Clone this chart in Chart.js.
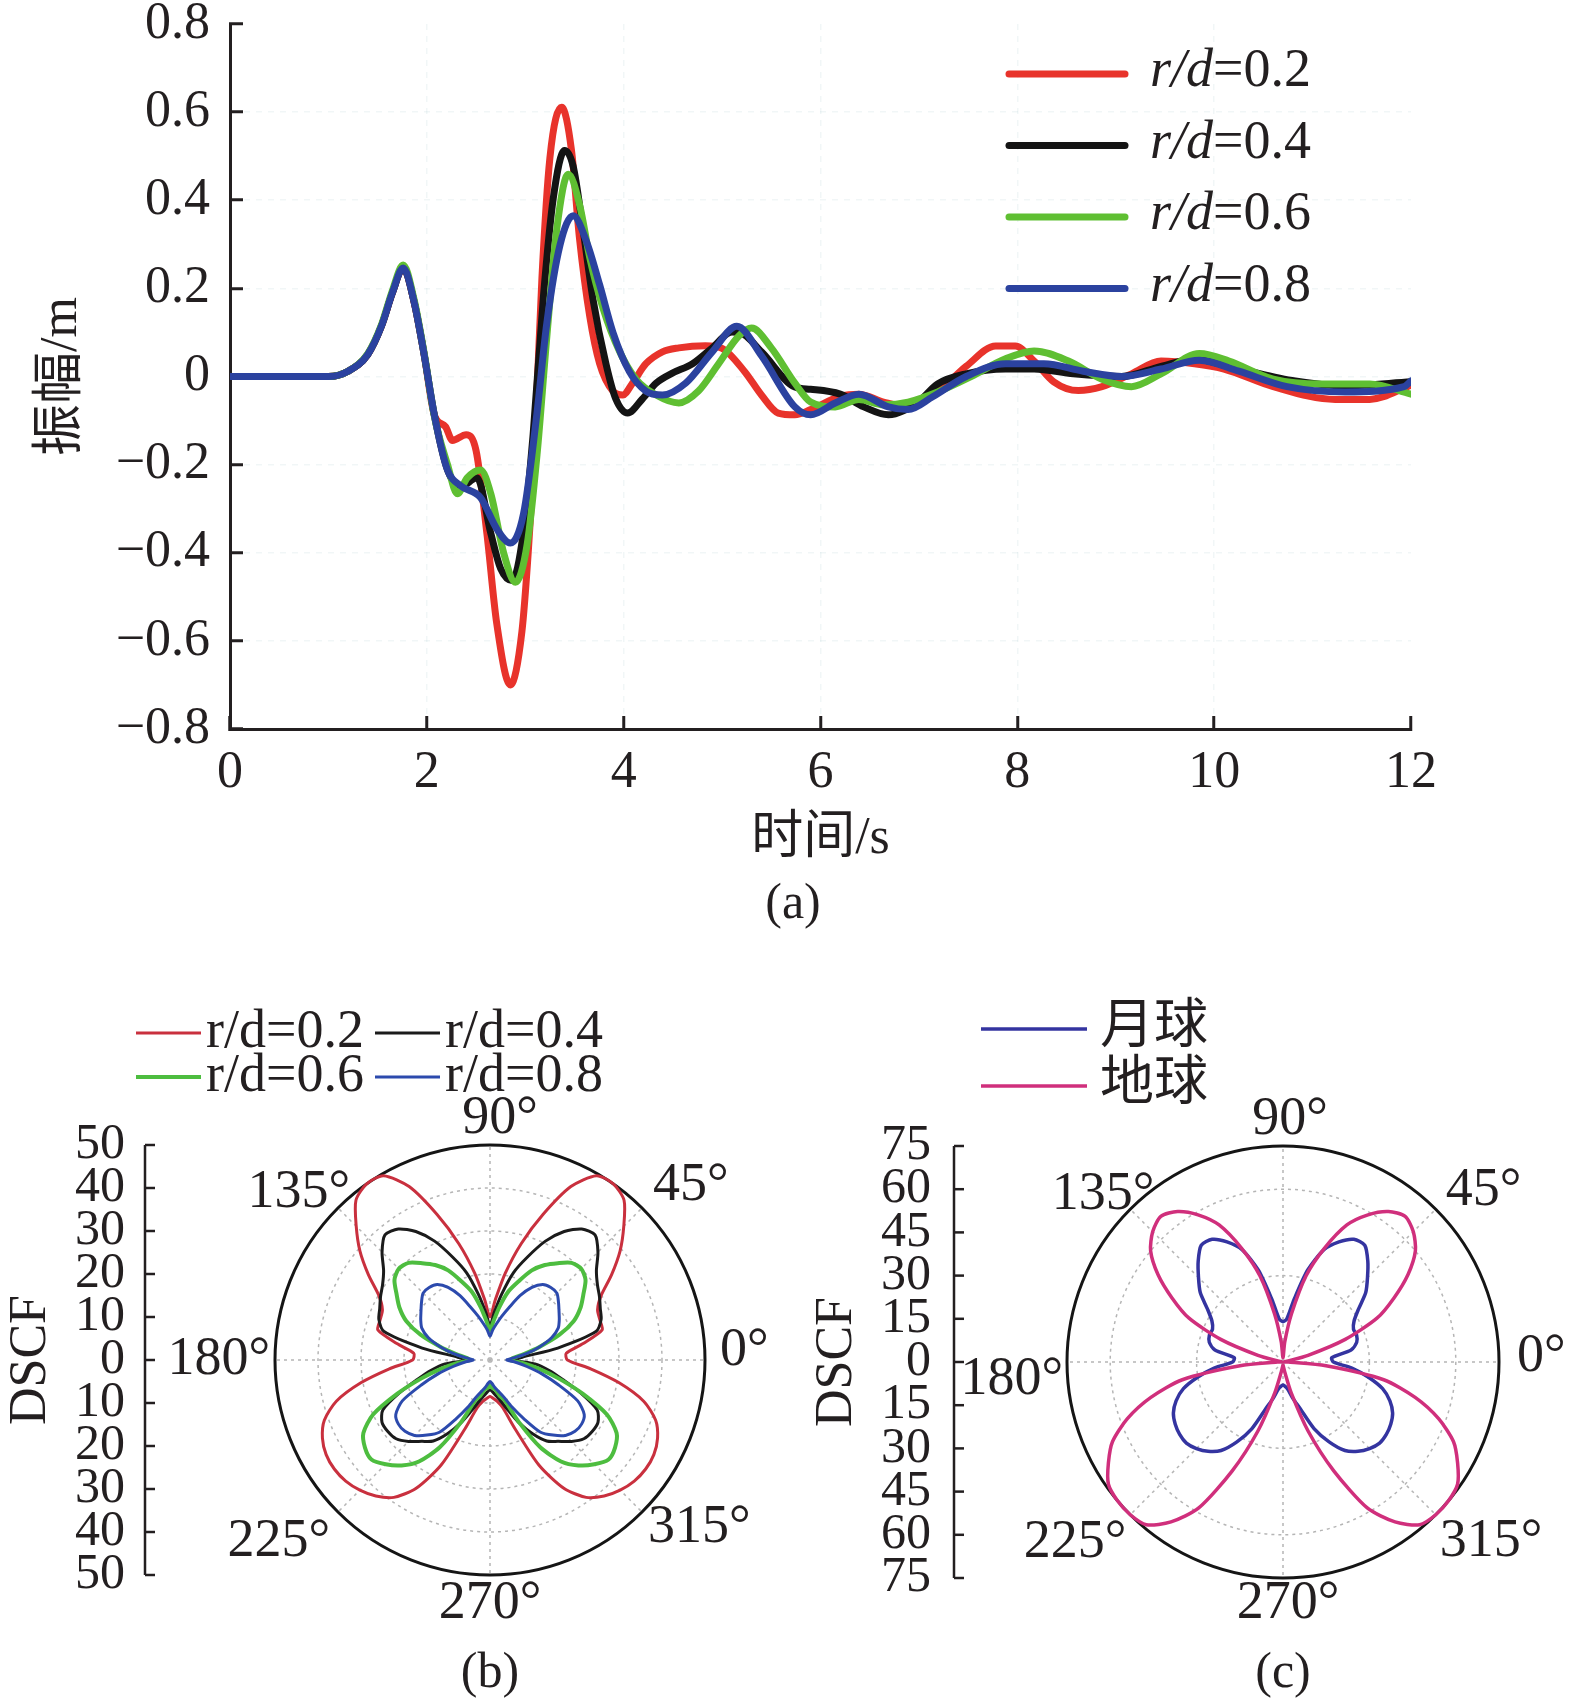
<!DOCTYPE html>
<html lang="zh">
<head>
<meta charset="utf-8">
<title>振幅与DSCF</title>
<script src="https://cdn.jsdelivr.net/npm/chart.js@4.4.1/dist/chart.umd.min.js"></script>
<style>
  html, body { margin: 0; padding: 0; background: #fff; }
  #page { position: relative; width: 1575px; height: 1705px; overflow: hidden; background: #fff; }
  canvas { position: absolute; }
</style>
</head>
<body>
<div id="page">
  <canvas id="chartA" width="1575" height="950" style="left:0;top:0"></canvas>
  <canvas id="chartB" width="790" height="755" style="left:0;top:950px"></canvas>
  <canvas id="chartC" width="785" height="755" style="left:790px;top:950px"></canvas>
</div>
<script>
/* ========================================================
   DATA - panel (a): amplitude vs time
======================================================== */
const seriesA = ['r/d=0.2', 'r/d=0.4', 'r/d=0.6', 'r/d=0.8'];

const tRed = [0, 1.0, 1.2, 1.4, 1.54, 1.65, 1.76, 1.87, 1.975, 2.076, 2.19, 2.26, 2.40, 2.50, 2.61, 2.71, 2.849, 2.966, 3.03, 3.10,
              3.17, 3.25, 3.37, 3.47, 3.55, 3.655, 3.756, 3.89, 3.99, 4.09, 4.226, 4.394, 4.56, 4.83, 5.0, 5.23, 5.40, 5.57, 5.74, 5.90,
              6.2, 6.39, 6.64, 6.89, 7.19, 7.48, 7.78, 7.98, 8.17, 8.37, 8.62, 8.86, 9.16, 9.46, 9.80, 10.1, 10.6, 11.23, 11.58, 12];
const vRed = [0, 0, 0.012, 0.05, 0.115, 0.19, 0.246, 0.17, 0.047, -0.087, -0.114, -0.145, -0.132, -0.168, -0.356, -0.56, -0.70, -0.579, -0.40, -0.132,
              0.226, 0.495, 0.611, 0.513, 0.316, 0.137, 0.029, -0.033, -0.042, -0.015, 0.029, 0.056, 0.065, 0.070, 0.064, 0.011, -0.042, -0.083, -0.087, -0.075,
              -0.045, -0.04, -0.058, -0.069, -0.035, 0.023, 0.069, 0.069, 0.035, -0.012, -0.032, -0.023, 0.006, 0.035, 0.029, 0.017, -0.023, -0.052, -0.052, -0.02];

const tBlack = [0, 1.0, 1.2, 1.4, 1.54, 1.65, 1.76, 1.87, 1.975, 2.076, 2.21, 2.345, 2.51, 2.65, 2.75, 2.866, 2.98, 3.08, 3.185, 3.285,
                3.40, 3.487, 3.587, 3.69, 3.82, 3.92, 4.04, 4.19, 4.33, 4.49, 4.70, 4.90, 5.10, 5.18, 5.40, 5.74, 5.90, 6.2, 6.44, 6.69,
                6.99, 7.19, 7.48, 7.88, 8.17, 8.57, 9.06, 9.46, 9.80, 10.15, 10.79, 11.33, 12];
const vBlack = [0, 0, 0.012, 0.05, 0.115, 0.19, 0.246, 0.17, 0.047, -0.087, -0.212, -0.25, -0.23, -0.356, -0.436, -0.463, -0.356, -0.132, 0.182, 0.405,
                0.513, 0.477, 0.334, 0.173, 0.029, -0.051, -0.083, -0.051, -0.015, 0.007, 0.029, 0.065, 0.101, 0.10, 0.056, -0.024, -0.029, -0.04, -0.069, -0.087,
                -0.058, -0.017, 0.006, 0.017, 0.017, 0.006, 0, 0.023, 0.040, 0.023, -0.009, -0.021, -0.012];

const tGreen = [0, 1.0, 1.2, 1.4, 1.54, 1.65, 1.76, 1.87, 1.975, 2.076, 2.21, 2.31, 2.41, 2.546, 2.65, 2.78, 2.90, 3.02, 3.12, 3.22,
                3.32, 3.437, 3.555, 3.655, 3.79, 3.96, 4.125, 4.33, 4.56, 4.76, 4.965, 5.17, 5.30, 5.50, 5.74, 5.90, 6.15, 6.39, 6.64, 6.89,
                7.19, 7.53, 7.88, 8.17, 8.52, 8.86, 9.16, 9.46, 9.85, 10.15, 10.6, 11.09, 11.58, 12];
const vGreen = [0, 0, 0.012, 0.052, 0.118, 0.195, 0.253, 0.175, 0.05, -0.09, -0.2, -0.266, -0.23, -0.212, -0.266, -0.40, -0.467, -0.38, -0.177, 0.092,
                0.334, 0.459, 0.387, 0.27, 0.155, 0.056, -0.006, -0.042, -0.060, -0.033, 0.029, 0.092, 0.110, 0.065, -0.015, -0.058, -0.069, -0.052, -0.064, -0.058,
                -0.035, 0, 0.04, 0.058, 0.035, -0.006, -0.023, 0.006, 0.052, 0.035, -0.006, -0.017, -0.017, -0.04];

const tBlue = [0, 1.0, 1.2, 1.4, 1.54, 1.65, 1.76, 1.87, 1.975, 2.076, 2.21, 2.345, 2.546, 2.714, 2.849, 2.983, 3.117, 3.218, 3.353, 3.487,
               3.621, 3.756, 3.89, 4.058, 4.226, 4.394, 4.63, 4.90, 5.15, 5.40, 5.74, 5.90, 6.15, 6.39, 6.69, 6.89, 7.14, 7.48, 7.88, 8.27,
               8.67, 9.06, 9.46, 9.85, 10.25, 10.74, 11.33, 11.93, 12];
const vBlue = [0, 0, 0.012, 0.05, 0.115, 0.19, 0.246, 0.17, 0.047, -0.087, -0.212, -0.248, -0.275, -0.347, -0.378, -0.311, -0.087, 0.119, 0.298, 0.365,
               0.307, 0.208, 0.101, 0.011, -0.033, -0.042, -0.015, 0.056, 0.114, 0.047, -0.069, -0.087, -0.06, -0.04, -0.069, -0.075, -0.046, 0, 0.029, 0.029,
               0.012, 0, 0.017, 0.037, 0.012, -0.023, -0.035, -0.023, -0.01];

const xTicksA = [0, 2, 4, 6, 8, 10, 12];
const yTicksA = [-0.8, -0.6, -0.4, -0.2, 0, 0.2, 0.4, 0.6, 0.8];

/* ========================================================
   DATA - panels (b), (c): DSCF polar patterns
   right half only, 90deg down to -90deg every 5deg;
   the left half is the mirror image (theta -> 180 - theta)
======================================================== */
const polarAngles = [90, 85, 80, 75, 70, 65, 60, 55, 50, 45, 40, 35, 30, 25, 20, 15, 10, 5, 0,
                     -5, -10, -15, -20, -25, -30, -35, -40, -45, -50, -55, -60, -65, -70, -75, -80, -85, -90];

const seriesB = ['r/d=0.2', 'r/d=0.4', 'r/d=0.6', 'r/d=0.8'];
const redB   = [10, 14, 20.5, 28, 36, 44.5, 49.5, 50, 48.5, 44, 39.5, 34.5, 29.8, 27.6, 27.2, 27, 22, 17.8, 18,
                23.5, 30.5, 37, 41, 43, 44, 44.2, 43.8, 42.8, 41.3, 39, 34.5, 27, 17, 11.5, 9.8, 9, 8.5];
const blackB = [8, 11, 15.5, 21, 25.5, 30.5, 34.5, 37.2, 38, 35.5, 32.3, 30.5, 29.4, 28.3, 27.5, 25.5, 16, 7.5, 5.5,
                10.5, 14, 17.5, 22.5, 27.5, 29, 29, 28.5, 26.8, 24.7, 23, 19.8, 16.2, 12.5, 10, 8.5, 7.5, 7];
const greenB = [7, 9, 12.5, 16.5, 19.5, 23, 25.5, 27.5, 29.5, 30, 29, 26.5, 24.3, 21.5, 17.2, 12, 8, 5.5, 4.7,
                7.5, 11.5, 16.5, 23, 30, 34, 35.5, 36, 34.3, 32, 28.8, 23.5, 16, 10, 8.5, 7, 6.5, 6];
const blueB  = [5.5, 7, 8.5, 10.5, 13, 16.5, 19.5, 21.4, 22, 22, 20.8, 19.6, 18.6, 17.5, 15.3, 12, 8.6, 5.5, 3.9,
                6, 8.7, 12.5, 17, 22.5, 25.3, 26, 25.8, 24.8, 22.8, 20.5, 15.8, 12, 9, 7.5, 6.5, 5.5, 5];

const seriesC = ['月球', '地球'];
const moonC  = [14, 15, 22, 33, 41.5, 46, 49.2, 49.5, 45.8, 41.5, 37.5, 32, 28.5, 27, 27.2, 26.5, 24, 17, 17.5,
                24, 30, 35.8, 39.5, 42, 43.2, 43.8, 43.8, 42.5, 40.5, 37.5, 32, 25.5, 17, 13, 9.6, 8.5, 8];
const earthC = [1.5, 7, 17, 31, 42, 52.5, 59, 63.8, 66, 64, 60, 53, 44.5, 36, 23, 9, 1, 0.5, 2,
                15, 35.5, 47.5, 57.5, 65.3, 70, 74, 75, 75, 73.8, 67.8, 58.5, 41.7, 25.6, 11.3, 3.5, 1.5, 1];

const dscfTicksB = [0, 10, 20, 30, 40, 50];
const ringsB     = [10, 20, 30, 40];
const dscfTicksC = [0, 15, 30, 45, 60, 75];
const ringsC     = [30, 60];
const angleTicks = [0, 45, 90, 135, 180, 225, 270, 315];

/* ========================================================
   HELPERS
======================================================== */
const SERIF = '"Liberation Serif", "Times New Roman", "Noto Sans CJK SC", serif';
const INK   = '#231f20';

const fullAngles = polarAngles.concat(polarAngles.slice(1, -1).reverse().map(a => 180 - a));
const mirror = r => r.concat(r.slice(1, -1).reverse());
const angleIndex = deg => fullAngles.findIndex(a => ((a % 360) + 360) % 360 === deg);

function lineSet(label, t, v, color, order) {
    return {
        label,
        data: t.map((x, i) => ({ x, y: v[i] })),
        borderColor: color,
        borderWidth: 7,
        pointRadius: 0,
        fill: false,
        cubicInterpolationMode: 'monotone',
        borderCapStyle: 'round',
        borderJoinStyle: 'round',
        order,
    };
}

function fmtTick(v) {
    if (Math.abs(v) < 1e-9) return '0';
    return (v < 0 ? '\u2212' : '') + Math.abs(v).toFixed(1);
}

/* ========================================================
   PANEL (a)
======================================================== */
const legendA = {
    id: 'legendA',
    afterDraw(chart) {
        const ctx = chart.ctx;
        ctx.save();
        chart.data.datasets.forEach((ds, i) => {
            const y = 74 + i * 71.5;
            ctx.strokeStyle = ds.borderColor;
            ctx.lineWidth   = 7;
            ctx.lineCap     = 'round';
            ctx.beginPath();
            ctx.moveTo(1009, y);
            ctx.lineTo(1125, y);
            ctx.stroke();

            const rest = ds.label.split('=')[1];
            ctx.fillStyle    = INK;
            ctx.textAlign    = 'left';
            ctx.textBaseline = 'middle';
            ctx.font = `italic 54px ${SERIF}`;
            ctx.fillText('r/d', 1150, y - 2);
            const w = ctx.measureText('r/d').width;
            ctx.font = `54px ${SERIF}`;
            ctx.fillText('=' + rest, 1150 + w, y - 2);
        });
        ctx.font = `50px ${SERIF}`;
        ctx.textAlign = 'center';
        ctx.textBaseline = 'middle';
        ctx.fillStyle = INK;
        ctx.fillText('(a)', 793, 905);
        ctx.restore();
    }
};

const faintGrid = 'rgba(170, 200, 205, 0.16)';

new Chart(document.getElementById('chartA'), {
    type: 'line',
    data: {
        datasets: [
            lineSet(seriesA[0], tRed,   vRed,   '#e8332b', 3),
            lineSet(seriesA[1], tBlack, vBlack, '#141414', 2),
            lineSet(seriesA[2], tGreen, vGreen, '#5fbf32', 1),
            lineSet(seriesA[3], tBlue,  vBlue,  '#2b429f', 0),
        ]
    },
    options: {
        responsive: false,
        animation: false,
        events: [],
        layout: { padding: { left: 0, top: 24, right: 164, bottom: 0 } },
        plugins: { legend: { display: false }, tooltip: { enabled: false } },
        scales: {
            x: {
                type: 'linear',
                min: 0, max: 12,
                afterBuildTicks: s => { s.ticks = xTicksA.map(v => ({ value: v })); },
                afterFit: s => { s.height = 221; },
                ticks: { font: { family: SERIF, size: 52 }, color: INK, padding: 26, maxRotation: 0, autoSkip: false },
                grid: {
                    color: c => (c.tick && (c.tick.value === 0 || c.tick.value === 12)) ? 'rgba(0,0,0,0)' : faintGrid,
                    lineWidth: 1.5,
                    tickColor: INK, tickWidth: 3, tickLength: -13,
                },
                border: { color: INK, width: 3, dash: [6, 6] },
                title: {
                    display: true, text: '时间/s', color: INK,
                    font: { family: SERIF, size: 52 },
                    padding: { top: 0, bottom: 79 }
                }
            },
            y: {
                type: 'linear',
                min: -0.8, max: 0.8,
                afterBuildTicks: s => { s.ticks = yTicksA.map(v => ({ value: v })); },
                afterFit: s => { s.width = 230; s.paddingTop = 0; s.paddingBottom = 0; },
                ticks: { font: { family: SERIF, size: 52 }, color: INK, padding: 33, callback: fmtTick, autoSkip: false },
                grid: {
                    color: c => (c.tick && Math.abs(Math.abs(c.tick.value) - 0.8) < 1e-9) ? 'rgba(0,0,0,0)' : faintGrid,
                    lineWidth: 1.5,
                    tickColor: INK, tickWidth: 3, tickLength: -13,
                },
                border: { color: INK, width: 3, dash: [6, 6] },
                title: {
                    display: true, text: '振幅/m', color: INK,
                    font: { family: SERIF, size: 52 },
                    padding: { top: 31, bottom: 0 }
                }
            }
        }
    },
    plugins: [legendA]
});

/* ========================================================
   PANELS (b), (c) - radar used as a polar plot
======================================================== */
function polarDecor(cfg) {
    return {
        id: 'polarDecor',
        afterDraw(chart) {
            const ctx = chart.ctx;
            const r   = chart.scales.r;
            const cx  = r.xCenter, cy = r.yCenter, R = r.drawingArea;

            ctx.save();
            ctx.fillStyle   = INK;
            ctx.strokeStyle = INK;

            // angle labels
            ctx.font = `54px ${SERIF}`;
            ctx.textBaseline = 'middle';
            cfg.angleText.forEach(([deg, dx, dy, align]) => {
                const p = r.getPointPosition(angleIndex(deg), R);
                ctx.textAlign = align;
                ctx.fillText(deg + '°', p.x + dx, p.y + dy);
            });

            // DSCF axis on the left, mirrored about the centre
            ctx.lineWidth = 2.5;
            ctx.beginPath();
            ctx.moveTo(cfg.axisX, cy - R);
            ctx.lineTo(cfg.axisX, cy + R);
            ctx.stroke();
            ctx.font = `50px ${SERIF}`;
            ctx.textAlign = 'right';
            cfg.ticks.forEach(v => {
                const d  = r.getDistanceFromCenterForValue(v);
                const ys = v === 0 ? [cy] : [cy - d, cy + d];
                ys.forEach(y => {
                    ctx.beginPath();
                    ctx.moveTo(cfg.axisX, y);
                    ctx.lineTo(cfg.axisX + 10, y);
                    ctx.stroke();
                    ctx.fillText(String(v), cfg.labelRight, y);
                });
            });

            // axis title
            ctx.save();
            ctx.translate(cfg.titleX, cy);
            ctx.rotate(-Math.PI / 2);
            ctx.textAlign = 'center';
            ctx.font = `52px ${SERIF}`;
            ctx.fillText('DSCF', 0, 0);
            ctx.restore();

            // legend
            chart.data.datasets.forEach((ds, i) => {
                const [x, y] = cfg.legendPos[i];
                ctx.strokeStyle = ds.borderColor;
                ctx.lineWidth   = ds.borderWidth;
                ctx.beginPath();
                ctx.moveTo(x, y);
                ctx.lineTo(x + cfg.legendLine, y);
                ctx.stroke();
                ctx.fillStyle    = INK;
                ctx.textAlign    = 'left';
                ctx.textBaseline = 'middle';
                ctx.font = `${cfg.legendFont}px ${SERIF}`;
                ctx.fillText(ds.label, x + cfg.legendLine + cfg.legendGap, y);
            });

            // caption
            ctx.font = `50px ${SERIF}`;
            ctx.textAlign = 'center';
            ctx.fillStyle = INK;
            ctx.fillText(cfg.caption, cx, cfg.captionY);
            ctx.restore();
        }
    };
}

function polarChart(id, cfg) {
    return new Chart(document.getElementById(id), {
        type: 'radar',
        data: {
            labels: fullAngles.map(a => a + '°'),
            datasets: cfg.series.map(s => ({
                label: s.label,
                data: mirror(s.r),
                borderColor: s.color,
                borderWidth: s.width,
                pointRadius: 0,
                fill: false,
                tension: 0.25,
                order: s.order,
            }))
        },
        options: {
            responsive: false,
            animation: false,
            events: [],
            layout: { padding: cfg.padding },
            plugins: { legend: { display: false }, tooltip: { enabled: false } },
            scales: {
                r: {
                    min: 0, max: cfg.max,
                    afterBuildTicks: s => { s.ticks = cfg.ticks.map(v => ({ value: v })); },
                    ticks: { display: false },
                    pointLabels: { display: false },
                    grid: {
                        circular: true,
                        color: c => c.tick.value === cfg.max ? '#151515'
                                  : (cfg.rings.includes(c.tick.value) ? '#b5b5b5' : 'rgba(0,0,0,0)'),
                        lineWidth: c => c.tick.value === cfg.max ? 3 : 1.5,
                    },
                    border: { dash: c => (c.tick && c.tick.value === cfg.max) ? [] : [3, 4] },
                    angleLines: {
                        display: true,
                        color: c => c.index % 9 === 0 ? '#b5b5b5' : 'rgba(0,0,0,0)',
                        lineWidth: 1.5,
                        borderDash: [3, 4],
                    }
                }
            }
        },
        plugins: [polarDecor(cfg)]
    });
}

polarChart('chartB', {
    max: 50,
    ticks: dscfTicksB,
    rings: ringsB,
    padding: { left: 275, top: 195, right: 85, bottom: 130 },
    series: [
        { label: seriesB[0], r: redB,   color: '#c9303e', width: 3,   order: 3 },
        { label: seriesB[1], r: blackB, color: '#1b1b1b', width: 3,   order: 2 },
        { label: seriesB[2], r: greenB, color: '#4dbd3f', width: 4,   order: 1 },
        { label: seriesB[3], r: blueB,  color: '#2c4aad', width: 3,   order: 0 },
    ],
    angleText: [
        [0, 15, -9, 'left'], [45, 11, -22, 'left'], [90, 10, -26, 'center'], [135, 12, -15, 'right'],
        [180, -5, 0, 'right'], [225, -8, 30, 'right'], [270, 0, 29, 'center'], [315, 6, 16, 'left'],
    ],
    axisX: 145, labelRight: 125, titleX: 31,
    legendPos: [[136, 83], [375, 83], [136, 127], [375, 127]],
    legendLine: 65, legendGap: 5, legendFont: 54,
    caption: '(b)', captionY: 724,
});

polarChart('chartC', {
    max: 75,
    ticks: dscfTicksC,
    rings: ringsC,
    padding: { left: 277, top: 196, right: 76, bottom: 127 },
    series: [
        { label: seriesC[0], r: moonC,  color: '#3434a0', width: 3.5, order: 1 },
        { label: seriesC[1], r: earthC, color: '#d02f7c', width: 3.5, order: 0 },
    ],
    angleText: [
        [0, 18, -5, 'left'], [45, 10, -18, 'left'], [90, 7, -26, 'center'], [135, 24, -14, 'right'],
        [180, -4, 18, 'right'], [225, -4, 28, 'right'], [270, 5, 26, 'center'], [315, 4, 27, 'left'],
    ],
    axisX: 164, labelRight: 141, titleX: 47,
    legendPos: [[191, 79], [191, 136]],
    legendLine: 106, legendGap: 13, legendFont: 54,
    caption: '(c)', captionY: 724,
});
</script>
</body>
</html>
